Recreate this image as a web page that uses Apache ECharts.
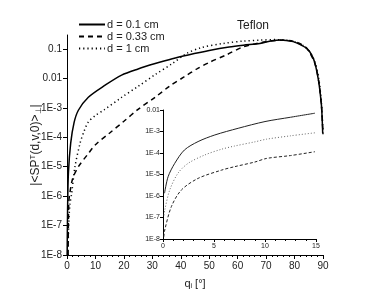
<!DOCTYPE html>
<html><head><meta charset="utf-8">
<script src="https://cdn.jsdelivr.net/npm/echarts@6/dist/echarts.min.js"></script>
<style>html,body{margin:0;padding:0;background:#fff}#c{width:374px;height:305px}</style>
</head><body><div id="c"></div>
<script>
// Main plot: incidence angle (deg) and |<SP^T>| values
const solidAngle = [0.05,0.2,0.5,1.3,2.5,4,7.5,13.4,19.2,25,31,37,42.6,50,57,62,67.8,72,75,79.5,82,84.3,86,87.2,88.4,89,89.5,89.9];
const solidVal   = [1e-8,3.2e-7,6.3e-6,6.3e-5,3.2e-4,8.3e-4,2.3e-3,5.9e-3,0.013,0.021,0.032,0.047,0.063,0.089,0.117,0.135,0.155,0.19,0.204,0.178,0.141,0.105,0.063,0.032,8.7e-3,3.2e-3,1.07e-3,1.35e-4];
const dashAngle  = [0.4,0.6,1,2,4,7.5,10,15,20,25,31,36,41,46,50,56,62,66,70,75,80,84,87,88.5,89.5,90];
const dashVal    = [1e-8,5.5e-7,1.26e-6,4e-6,1e-5,2.8e-5,5.6e-5,1.4e-4,3.5e-4,8.9e-4,2.3e-3,5.4e-3,0.011,0.022,0.035,0.063,0.12,0.148,0.178,0.2,0.178,0.112,0.035,7.9e-3,1e-3,1.26e-4];
const dotAngle   = [0.3,0.6,1,1.65,2.8,4.6,6,7.5,10,13,19,25,31,37,42,47,55,62,68,73,77,80,83,85,87,88.5,89.5,90];
const dotVal     = [1e-8,1e-7,5e-7,1.26e-6,1e-5,6.3e-5,1.6e-4,3.3e-4,5.5e-4,8.5e-4,2.2e-3,5.4e-3,0.0135,0.032,0.07,0.11,0.155,0.186,0.2,0.209,0.2,0.174,0.132,0.089,0.04,0.01,1.26e-3,1.26e-4];
// Inset (0-15 deg)
const inSolidAngle = [0.15,0.5,1.15,2.1,3.44,5.08,7.37,10,12.5,14.9];
const inSolidVal   = [1.35e-6,7.9e-6,3.3e-5,1.38e-4,3.4e-4,6.9e-4,1.41e-3,2.9e-3,4.6e-3,7.1e-3];
const inDotAngle   = [0.1,0.17,0.66,1.47,2.46,4.1,5.74,7,9,10.16,12.5,14.9];
const inDotVal     = [1.26e-7,2.2e-7,1.9e-6,1.15e-5,3.3e-5,8.1e-5,1.5e-4,2.1e-4,3.3e-4,4.4e-4,6.3e-4,8.7e-4];
const inDashAngle  = [0.08,0.17,0.82,1.8,3.44,5.74,7,9,10.16,12.5,14.9];
const inDashVal    = [1.26e-8,2.6e-8,3.2e-7,1.9e-6,6.6e-6,1.6e-5,2.3e-5,3.8e-5,5.6e-5,7.6e-5,1.15e-4];
const legendNames = ['d = 0.1 cm','d = 0.33 cm','d = 1 cm'];
const mainYTicks = [-8,-7,-6,-5,-4,-3,-2,-1];
const insetYTicks = [-8,-7,-6,-5,-4,-3,-2];

function pts(a,v){return a.map((x,i)=>[x,Math.log10(v[i])]);}
function fmt(v){v=Math.round(v); if(v===-1)return '0.1'; if(v===-2)return '0.01'; return '1E'+v;}
const txt='#222';
const ff='Liberation Sans, Arial';
const chart=echarts.init(document.getElementById('c'));
chart.setOption({
  animation:false,
  backgroundColor:'#fff',
  title:{text:'Teflon',left:248,top:15,textAlign:'center',textStyle:{fontSize:12,fontWeight:'normal',color:txt,fontFamily:ff}},
  legend:{data:legendNames,orient:'vertical',left:78,top:19,itemWidth:26,itemHeight:12,itemGap:1,padding:0,
    itemStyle:{opacity:0,borderWidth:0},
    textStyle:{fontSize:11,color:txt,fontFamily:ff,padding:[0,0,0,-3]}},
  grid:[{left:67,top:35,width:256,height:220},{left:163,top:110,width:153,height:129}],
  xAxis:[
    {gridIndex:0,type:'value',min:0,max:90,interval:10,
     axisLine:{lineStyle:{color:'#000',width:1}},axisTick:{length:4,lineStyle:{color:'#000'}},
     minorTick:{show:true,splitNumber:5,length:2,lineStyle:{color:'#000'}},splitLine:{show:false},
     axisLabel:{fontSize:10,color:txt,margin:6,fontFamily:ff},
     name:'q{s|i} [°]',nameLocation:'middle',nameGap:22,nameMoveOverlap:false,
     nameTextStyle:{fontSize:11,color:txt,fontFamily:ff,rich:{s:{fontSize:7,verticalAlign:'bottom',padding:[6,0,0,0]}}}},
    {gridIndex:1,type:'value',min:0,max:15,interval:5,
     axisLine:{lineStyle:{color:'#000',width:1}},axisTick:{length:3,lineStyle:{color:'#000'}},
     minorTick:{show:true,splitNumber:5,length:2,lineStyle:{color:'#000'}},splitLine:{show:false},
     axisLabel:{fontSize:7,color:txt,margin:4,fontFamily:ff}}
  ],
  yAxis:[
    {gridIndex:0,type:'value',min:-8,max:-0.524,
     axisLine:{show:true,lineStyle:{color:'#000',width:1}},
     axisTick:{show:true,length:4,customValues:mainYTicks,lineStyle:{color:'#000'}},
     splitLine:{show:false},
     axisLabel:{fontSize:10,color:txt,margin:5,customValues:mainYTicks,formatter:fmt,fontFamily:ff},
     name:'|<SP{sup|T}(d,v,0)>{sub|⊥}|',nameLocation:'middle',nameGap:24,nameMoveOverlap:false,
     nameTextStyle:{fontSize:12,color:txt,fontFamily:ff,
       rich:{sup:{fontSize:8,verticalAlign:'top',padding:[0,0,6,0]},sub:{fontSize:8,verticalAlign:'bottom',padding:[6,0,0,0]}}}},
    {gridIndex:1,type:'value',min:-8,max:-2,
     axisLine:{show:true,lineStyle:{color:'#000',width:1}},
     axisTick:{show:true,length:3,customValues:insetYTicks,lineStyle:{color:'#000'}},
     splitLine:{show:false},
     axisLabel:{fontSize:7,color:txt,margin:3,customValues:insetYTicks,formatter:fmt,fontFamily:ff}}
  ],
  series:[
    {name:legendNames[0],type:'line',xAxisIndex:0,yAxisIndex:0,data:pts(solidAngle,solidVal),symbol:'none',smooth:0.3,
     lineStyle:{color:'#000',width:1.5,type:'solid'},itemStyle:{color:'#000'}},
    {name:legendNames[1],type:'line',xAxisIndex:0,yAxisIndex:0,data:pts(dashAngle,dashVal),symbol:'none',smooth:0.3,
     lineStyle:{color:'#000',width:1.5,type:[5,4]},itemStyle:{color:'#000'}},
    {name:legendNames[2],type:'line',xAxisIndex:0,yAxisIndex:0,data:pts(dotAngle,dotVal),symbol:'none',smooth:0.3,
     lineStyle:{color:'#000',width:1.5,type:[1.2,3]},itemStyle:{color:'#000'}},
    {name:'in1',type:'line',xAxisIndex:1,yAxisIndex:1,data:pts(inSolidAngle,inSolidVal),symbol:'none',smooth:0.3,
     lineStyle:{color:'#222',width:1,type:'solid'}},
    {name:'in2',type:'line',xAxisIndex:1,yAxisIndex:1,data:pts(inDashAngle,inDashVal),symbol:'none',smooth:0.3,
     lineStyle:{color:'#222',width:1,type:[3,2]}},
    {name:'in3',type:'line',xAxisIndex:1,yAxisIndex:1,data:pts(inDotAngle,inDotVal),symbol:'none',smooth:0.3,
     lineStyle:{color:'#666',width:1,type:[1,2]}}
  ]
});
</script></body></html>
